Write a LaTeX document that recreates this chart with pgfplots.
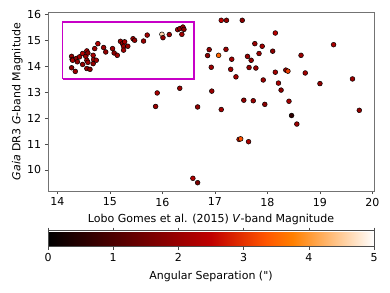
\documentclass[border=0pt]{standalone}
\usepackage{pgfplots}
\pgfplotsset{compat=1.18}
\usepackage{fontspec}
\setmainfont{DejaVu Sans}
\setsansfont{DejaVu Sans}
\newfontfamily\qfont{DejaVu Sans}[Ligatures=TeXOff]
\definecolor{boxmag}{rgb}{0.78,0,0.78}
\begin{document}
\fontsize{11}{13}\selectfont
\begin{tikzpicture}
\begin{axis}[
  name=main,
  scale only axis,
  width=326pt, height=179pt,
  xmin=13.82, xmax=20.03, ymin=9.19, ymax=16.09,
  xtick={14,15,...,20}, ytick={10,11,...,16},
  tick align=outside, tick pos=left,
  major tick length=3pt,
  axis line style={black!55},
  every tick/.style={black!70},
  /pgf/number format/assume math mode=true,
  tick label style={font=\fontsize{11}{13}\selectfont},
  label style={font=\fontsize{11}{13}\selectfont},
  xlabel={Lobo Gomes et al. (2015) \textit{V}-band Magnitude},
  ylabel={\textit{Gaia} DR3 \textit{G}-band Magnitude},
  xlabel style={yshift=0pt},
  ylabel style={yshift=-3pt},
  colormap={gistheat}{rgb(0cm)=(0,0,0) rgb(6cm)=(0.75,0,0) rgb(8cm)=(1,0.3333,0) rgb(9cm)=(1,0.5,0) rgb(12cm)=(1,1,1)},
  point meta min=0, point meta max=5,
  colorbar horizontal,
  colorbar style={
    at={(parent axis.south west)}, anchor=north west, yshift=-31pt,
    width=326pt, height=16pt,
    xtick={0,1,...,5},
    xlabel={Angular Separation ({\qfont"})},
    xlabel style={yshift=-2pt},
    tick align=outside,
    major tick length=3pt,
    axis line style={black!70},
    /pgf/number format/assume math mode=true,
    tick label style={font=\fontsize{11}{13}\selectfont},
    label style={font=\fontsize{11}{13}\selectfont},
  },
]
\addplot[boxmag, line width=1.6pt] coordinates {(14.1,13.5) (16.6,13.5) (16.6,15.7) (14.1,15.7) (14.1,13.5)};
\addplot[scatter, only marks, mark=*, mark size=2.4pt,
  scatter/use mapped color={draw=black, fill=mapped color},
  mark options={line width=0.5pt},
  point meta=explicit] table[meta=c] {
x y c
14.27 14.38 2.0
14.28 14.26 1.8
14.29 14.23 2.1
14.36 14.30 1.9
14.27 13.94 1.8
14.34 13.80 2.0
14.38 14.17 1.9
14.42 14.36 2.2
14.48 14.49 2.3
14.48 14.07 1.9
14.54 14.38 2.0
14.56 14.59 2.2
14.58 14.51 1.8
14.56 14.23 2.1
14.58 14.15 2.0
14.56 13.91 1.9
14.62 13.88 1.8
14.68 14.42 2.2
14.69 14.26 2.0
14.68 14.10 1.9
14.74 14.23 2.1
14.71 14.68 2.0
14.77 14.87 2.3
14.88 14.72 2.0
14.92 14.55 1.9
15.05 14.68 2.0
15.08 14.51 1.8
15.14 14.42 2.1
15.20 14.96 2.0
15.24 14.87 1.9
15.28 14.94 2.2
15.26 14.77 2.0
15.26 14.62 2.1
15.34 14.77 2.0
15.44 15.06 2.1
15.47 15.00 1.9
15.64 14.97 2.0
15.71 15.20 2.1
15.99 15.23 4.6
16.01 15.10 1.9
16.13 15.22 2.0
16.29 15.41 2.2
16.33 15.45 1.9
16.39 15.51 2.0
16.41 15.42 1.8
16.37 15.23 2.1
15.87 12.45 2.0
15.90 12.97 2.2
16.33 13.15 2.0
16.67 12.43 1.9
17.12 15.77 2.5
17.22 15.77 1.9
17.52 15.77 1.8
18.15 15.28 2.4
17.76 14.87 2.0
17.90 14.77 2.1
16.89 14.64 1.9
16.86 14.41 1.8
17.07 14.42 3.5
17.21 14.65 2.0
17.32 14.27 2.1
17.62 14.38 2.0
17.69 14.23 1.9
17.84 14.49 2.0
18.10 14.58 1.8
16.93 13.96 2.0
17.30 13.88 2.1
17.65 13.95 1.9
17.78 13.93 2.0
17.40 13.59 2.1
17.92 13.47 2.0
18.15 13.77 2.1
18.35 13.85 1.9
18.39 13.81 3.1
18.21 13.35 2.2
18.26 13.08 1.8
18.64 14.42 2.0
18.72 13.74 2.1
19.26 14.83 2.2
19.00 13.33 1.9
19.62 13.51 2.0
16.94 13.04 2.0
17.12 12.33 2.1
17.55 12.69 1.9
17.73 12.67 2.0
17.95 12.53 1.8
18.41 12.65 2.1
18.46 12.10 0.6
18.56 11.77 2.0
19.75 12.30 1.9
17.46 11.18 2.6
17.49 11.20 3.3
17.64 11.09 2.2
16.58 9.68 2.3
16.67 9.51 1.6
};
\end{axis}
\path (main.south west) ++(-48pt,-101pt) rectangle ++(390pt,292pt);
\end{tikzpicture}
\end{document}
